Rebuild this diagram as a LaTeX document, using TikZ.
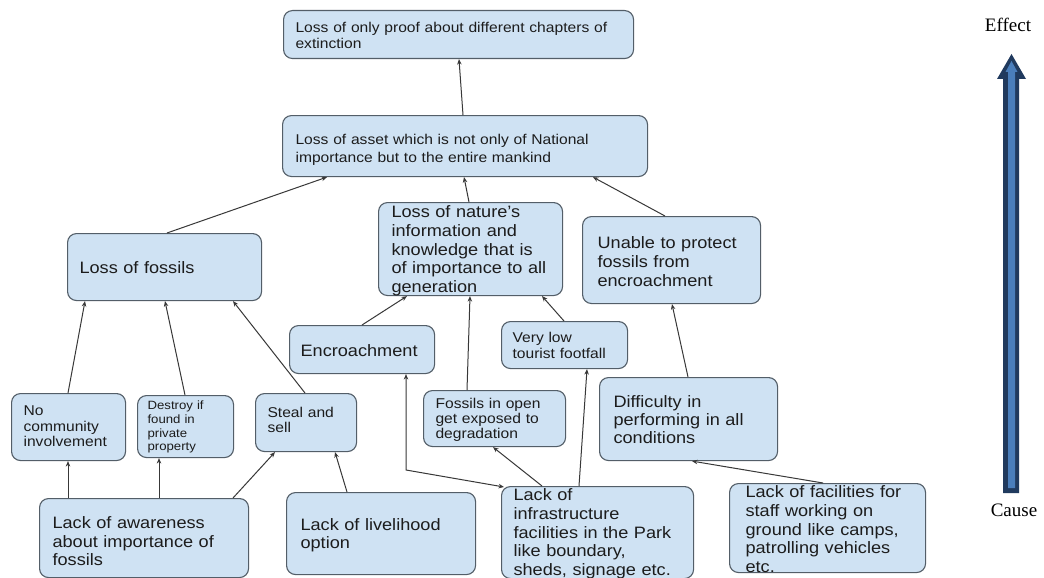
\documentclass[tikz,border=0pt]{standalone}
\usepackage{fontspec}
\setmainfont{Liberation Sans}
\newfontfamily\af[FakeStretch=1.1]{Liberation Sans}
\newfontfamily\tnr{Liberation Serif}
\usetikzlibrary{arrows.meta}
\definecolor{boxfill}{HTML}{CFE2F3}
\definecolor{boxline}{HTML}{535E68}
\definecolor{txt}{HTML}{1C1C1C}
\definecolor{conn}{HTML}{383838}
\definecolor{navy}{HTML}{203A5E}
\definecolor{midblue}{HTML}{4A7EBB}
\tikzset{
  bx/.style={draw=boxline, fill=boxfill, line width=1.1pt, rounded corners=9pt,
    anchor=north west, align=left, inner ysep=0pt, text=txt},
  tipx/.tip={Stealth[length=5.5pt,width=4.5pt]},
  cn/.style={draw=conn, line width=1pt, -tipx},
  cnb/.style={draw=conn, line width=1pt, tipx-tipx},
  lbl/.style={font={\tnr\fontsize{19}{22}\selectfont}, text=black, inner sep=0pt}
}
\begin{document}
\begin{tikzpicture}[x=1pt,y=-1pt]
\useasboundingbox (0,0) rectangle (1044,578);
\fill[white] (0,0) rectangle (1044,578);

% boxes
\node[bx, font={\af\fontsize{14.2}{15.5}\selectfont}, text width=326pt, inner xsep=12pt, text height=22pt, text depth=26pt] (b1) at (283,10) {Loss of only proof about different chapters of\\extinction};
\node[bx, font={\af\fontsize{14.2}{17.5}\selectfont}, text width=339pt, inner xsep=13pt, text height=29pt, text depth=32pt] (b2) at (282,115) {Loss of asset which is not only of National\\importance but to the entire mankind};
\node[bx, font={\af\fontsize{16.5}{19}\selectfont}, text width=170pt, inner xsep=12pt, text height=40pt, text depth=27pt] (b3) at (67,233) {Loss of fossils};
\node[bx, font={\af\fontsize{16.5}{18.75}\selectfont}, text width=158pt, inner xsep=13pt, text height=15pt, text depth=78pt] (b4) at (378,202) {Loss of nature’s\\information and\\knowledge that is\\of importance to all\\generation};
\node[bx, font={\af\fontsize{16.5}{19}\selectfont}, text width=148pt, inner xsep=15pt, text height=32pt, text depth=55pt] (b5) at (582,216) {Unable to protect\\fossils from\\encroachment};
\node[bx, font={\af\fontsize{16.5}{19}\selectfont}, text width=123pt, inner xsep=11pt, text height=31pt, text depth=17pt] (b6) at (289,325) {Encroachment};
\node[bx, font={\af\fontsize{14.2}{16}\selectfont}, text width=104pt, inner xsep=11pt, text height=21pt, text depth=26pt] (b7) at (501,321) {Very low\\tourist footfall};
\node[bx, font={\af\fontsize{14.2}{15}\selectfont}, text width=118pt, inner xsep=12pt, text height=18pt, text depth=38pt] (b8) at (423,390) {Fossils in open\\get exposed to\\degradation};
\node[bx, font={\af\fontsize{16.5}{18}\selectfont}, text width=150pt, inner xsep=14pt, text height=30pt, text depth=53pt] (b9) at (599,377) {Difficulty in\\performing in all\\conditions};
\node[bx, font={\af\fontsize{14.2}{15.5}\selectfont}, text width=90pt, inner xsep=12pt, text height=22pt, text depth=45pt] (b10) at (11,393) {No\\community\\involvement};
\node[bx, font={\af\fontsize{12}{13.8}\selectfont}, text width=76pt, inner xsep=10pt, text height=14pt, text depth=48pt] (b11) at (137,395) {Destroy if\\found in\\private\\property};
\node[bx, font={\af\fontsize{14.2}{14.5}\selectfont}, text width=77pt, inner xsep=12pt, text height=24pt, text depth=34pt] (b12) at (255,393) {Steal and\\sell};
\node[bx, font={\af\fontsize{16.5}{18.5}\selectfont}, text width=183pt, inner xsep=13pt, text height=30pt, text depth=49pt] (b13) at (39,498) {Lack of awareness\\about importance of\\fossils};
\node[bx, font={\af\fontsize{16.5}{17.5}\selectfont}, text width=161pt, inner xsep=14pt, text height=38pt, text depth=44pt] (b14) at (286,492) {Lack of livelihood\\option};
\node[bx, font={\af\fontsize{16.5}{18.8}\selectfont}, text width=168pt, inner xsep=12pt, text height=14pt, text depth=78pt] (b15) at (501,486) {Lack of\\infrastructure\\facilities in the Park\\like boundary,\\sheds, signage etc.};
\node[bx, font={\af\fontsize{16.5}{18.8}\selectfont}, text width=164pt, inner xsep=16pt, text height=14pt, text depth=75pt] (b16) at (729,483) {Lack of facilities for\\staff working on\\ground like camps,\\patrolling vehicles\\etc.};

% connectors
\draw[cn] (b2.north -| 463,0) -- (b1.south -| 459,0);
\draw[cn] (b3.north -| 167,0) -- (b2.south -| 327,0);
\draw[cn] (b4.north -| 469,0) -- (b2.south -| 464,0);
\draw[cn] (b5.north -| 665,0) -- (b2.south -| 593,0);
\draw[cn] (b6.north -| 362,0) -- (b4.south -| 407,0);
\draw[cn] (b7.north -| 564,0) -- (b4.south -| 542,0);
\draw[cn] (b8.north -| 467,0) -- (b4.south -| 470,0);
\draw[cn] (b9.north -| 688,0) -- (b5.south -| 672,0);
\draw[cn] (b10.north -| 68,0) -- (b3.south -| 85,0);
\draw[cn] (b11.north -| 185,0) -- (b3.south -| 165,0);
\draw[cn] (b12.north -| 305,0) -- (b3.south -| 233,0);
\draw[cn] (b13.north -| 68,0) -- (b10.south -| 68,0);
\draw[cn] (b13.north -| 159,0) -- (b11.south -| 159,0);
\draw[cn] (b13.north -| 233,0) -- (b12.south -| 275,0);
\draw[cn] (b14.north -| 347,0) -- (b12.south -| 335,0);
\coordinate (k1) at (406,470);
\draw[cnb] (b6.south -| 406,0) -- (k1) -- ([xshift=3pt,yshift=-1pt]b15.north west);
\draw[cn] (b15.north -| 542,0) -- (b8.south -| 493,0);
\draw[cn] (b15.north -| 579,0) -- (b7.south -| 587,0);
\draw[cn] (b16.north -| 823,0) -- (b9.south -| 692,0);

% cause -> effect arrow
\node[lbl] (eff) at (1008,25) {Effect};
\node[lbl] (cau) at (1014,510) {Cause};
\fill[navy] (1003,493) -- (1003,79) -- (997,79) -- (1011.5,54) -- (1026,79) -- (1019,79) -- (1019,493) -- cycle;
\fill[midblue] (1008,488) -- (1008,72) -- (1005.5,72) -- (1011.5,61) -- (1017.5,72) -- (1015,72) -- (1015,488) -- cycle;
\end{tikzpicture}
\end{document}
